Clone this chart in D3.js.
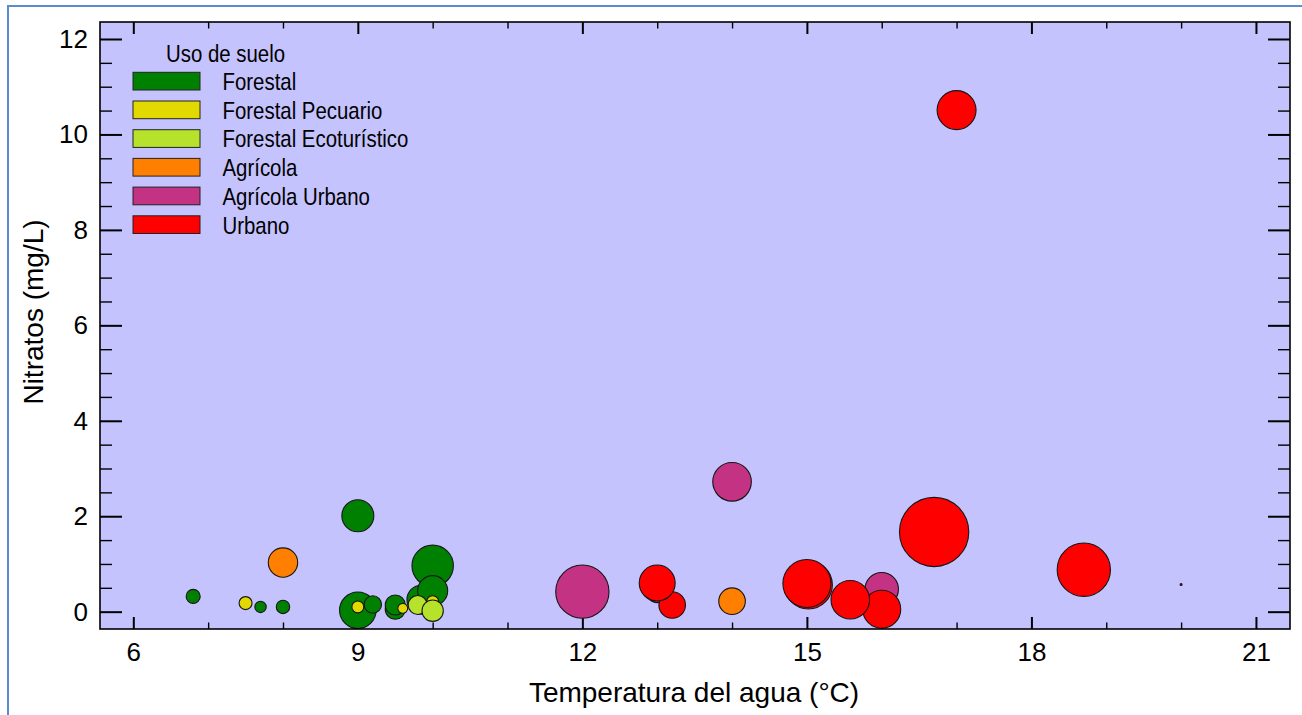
<!DOCTYPE html>
<html lang="es">
<head>
  <meta charset="UTF-8">
  <title>Nitratos vs temperatura del agua</title>
  <script src="https://d3js.org/d3.v7.min.js"></script>
  <style>
    body, html { margin: 0; padding: 0; background: #fff; overflow: hidden; }
    svg { display: block; font-family: "Liberation Sans", Arial, sans-serif; }
    .tick line { stroke: #000; }
  </style>
</head>
<body>
  <div id="chart"></div>

  <script>
    // Uso de suelo categories and their colours
    const categorias = ['Forestal', 'Forestal Pecuario', 'Forestal Ecoturístico', 'Agrícola', 'Agrícola Urbano', 'Urbano'];
    const colores = ['#008000', '#e2d900', '#b6e22c', '#ff8000', '#c43383', '#ff0000'];

    // One entry per sample, in drawing order
    const uso = [
      0, 0, 0, 0, 0, 0, 0, 0, 0, 0, 0,
      1, 1, 1, 1,
      2, 2,
      3, 3,
      4, 4, 4, 4,
      5, 5, 5, 5, 5, 5, 5, 5, 5, 5
    ];
    const temperatura = [
      6.8, 7.7, 8.0, 9.0, 9.0, 9.2, 9.5, 9.5, 10.0, 9.85, 10.0,
      7.5, 9.0, 9.6, 10.0,
      9.8, 10.0,
      8.0, 14.0,
      12.0, 13.0, 14.0, 16.0,
      13.2, 13.0, 15.02, 15.0, 16.0, 15.58, 16.7, 17.0, 18.7, 20.0
    ];
    const nitratos = [
      0.32, 0.10, 0.10, 2.01, 0.03, 0.15, 0.05, 0.14, 0.96, 0.25, 0.44,
      0.18, 0.10, 0.07, 0.21,
      0.14, 0.02,
      1.03, 0.22,
      0.42, 0.42, 2.72, 0.47,
      0.14, 0.60, 0.56, 0.59, 0.05, 0.25, 1.67, 10.51, 0.88, 0.57
    ];
    const tamano = [
      4.0, 2.65, 3.66, 20.9, 27.3, 6.2, 8.2, 8.2, 35, 17.2, 18.4,
      3.45, 2.9, 2.0, 2.9,
      7.4, 9.3,
      17.6, 14.4,
      58, 9.9, 30.4, 22.8,
      14.4, 26.4, 47, 47, 29.5, 30.4, 98, 31, 58, 0.08
    ];

    const xMajor = [6, 9, 12, 15, 18, 21];
    const yMajor = [0, 2, 4, 6, 8, 10, 12];

    const W = 1302, H = 715;
    const margin = { top: 22, right: 12, bottom: 86, left: 100 };
    const pw = W - margin.left - margin.right;
    const ph = H - margin.top - margin.bottom;

    const x = d3.scaleLinear().domain([5.555, 21.455]).range([0, pw]);
    const y = d3.scaleLinear().domain([-0.363, 12.356]).range([ph, 0]);
    const r = d3.scaleSqrt().domain([0, 100]).range([0, 35]);

    const xMinor = d3.range(6, 22, 1).filter(v => !xMajor.includes(v));
    const yMinor = d3.range(0.5, 12.1, 0.5).filter(v => !yMajor.includes(v));

    const svg = d3.select('#chart').append('svg')
      .attr('width', W)
      .attr('height', H);

    // outer blue frame (document border)
    svg.append('rect')
      .attr('x', 8).attr('y', 6)
      .attr('width', W + 20).attr('height', H + 20)
      .attr('fill', 'none')
      .attr('stroke', '#5b8bd0')
      .attr('stroke-width', 2);

    const g = svg.append('g').attr('transform', `translate(${margin.left},${margin.top})`);

    g.append('rect')
      .attr('width', pw).attr('height', ph)
      .attr('fill', '#c5c3fd');

    // axes: ticks point inward on all four sides
    function addAxis(axis, transform, sw) {
      const a = g.append('g').attr('transform', transform).call(axis);
      a.select('.domain').remove();
      a.selectAll('.tick line').attr('stroke-width', sw);
      return a;
    }

    const bottom = addAxis(d3.axisBottom(x).tickValues(xMajor).tickSize(-12).tickPadding(14).tickFormat(d3.format('d')),
      `translate(0,${ph})`, 2);
    addAxis(d3.axisBottom(x).tickValues(xMinor).tickSize(-6.5).tickFormat(''), `translate(0,${ph})`, 1.4);
    addAxis(d3.axisTop(x).tickValues(xMajor).tickSize(-12).tickFormat(''), 'translate(0,0)', 2);
    addAxis(d3.axisTop(x).tickValues(xMinor).tickSize(-6.5).tickFormat(''), 'translate(0,0)', 1.4);

    const left = addAxis(d3.axisLeft(y).tickValues(yMajor).tickSize(-22).tickPadding(12).tickFormat(d3.format('d')),
      'translate(0,0)', 2);
    addAxis(d3.axisLeft(y).tickValues(yMinor).tickSize(-12).tickFormat(''), 'translate(0,0)', 1.4);
    addAxis(d3.axisRight(y).tickValues(yMajor).tickSize(-22).tickFormat(''), `translate(${pw},0)`, 2);
    addAxis(d3.axisRight(y).tickValues(yMinor).tickSize(-12).tickFormat(''), `translate(${pw},0)`, 1.4);

    [bottom, left].forEach(a => a.selectAll('text')
      .attr('font-size', 26)
      .attr('font-family', '"Liberation Sans", Arial, sans-serif')
      .attr('fill', '#000'));

    // bubbles
    g.append('g')
      .selectAll('circle')
      .data(d3.range(temperatura.length))
      .join('circle')
      .attr('cx', i => x(temperatura[i]))
      .attr('cy', i => y(nitratos[i]))
      .attr('r', i => r(tamano[i]))
      .attr('fill', i => colores[uso[i]])
      .attr('stroke', '#161616')
      .attr('stroke-width', 1.1);

    // plot frame
    g.append('rect')
      .attr('width', pw).attr('height', ph)
      .attr('fill', 'none')
      .attr('stroke', '#000')
      .attr('stroke-width', 1.6);

    // legend (condensed text, squeezed horizontally since no narrow font is installed)
    const legend = g.append('g').attr('class', 'legend')
      .attr('transform', 'translate(33,40)');

    legend.append('text')
      .attr('transform', 'translate(33,0) scale(0.85,1)')
      .attr('font-size', 24)
      .text('Uso de suelo');

    const rows = legend.selectAll('g.row')
      .data(categorias)
      .join('g')
      .attr('class', 'row')
      .attr('transform', (d, i) => `translate(0,${28 + i * 28.7})`);

    rows.append('rect')
      .attr('x', 0).attr('y', -17.7)
      .attr('width', 67).attr('height', 17.7)
      .attr('fill', (d, i) => colores[i])
      .attr('stroke', '#222')
      .attr('stroke-width', 1);

    rows.append('text')
      .attr('transform', 'translate(89.5,0) scale(0.85,1)')
      .attr('font-size', 24)
      .text(d => d);

    // axis titles
    svg.append('text')
      .attr('x', 694).attr('y', 702)
      .attr('text-anchor', 'middle')
      .attr('font-size', 28)
      .text('Temperatura del agua (°C)');

    svg.append('text')
      .attr('transform', 'translate(43,312) rotate(-90)')
      .attr('text-anchor', 'middle')
      .attr('font-size', 28)
      .text('Nitratos (mg/L)');
  </script>
</body>
</html>
